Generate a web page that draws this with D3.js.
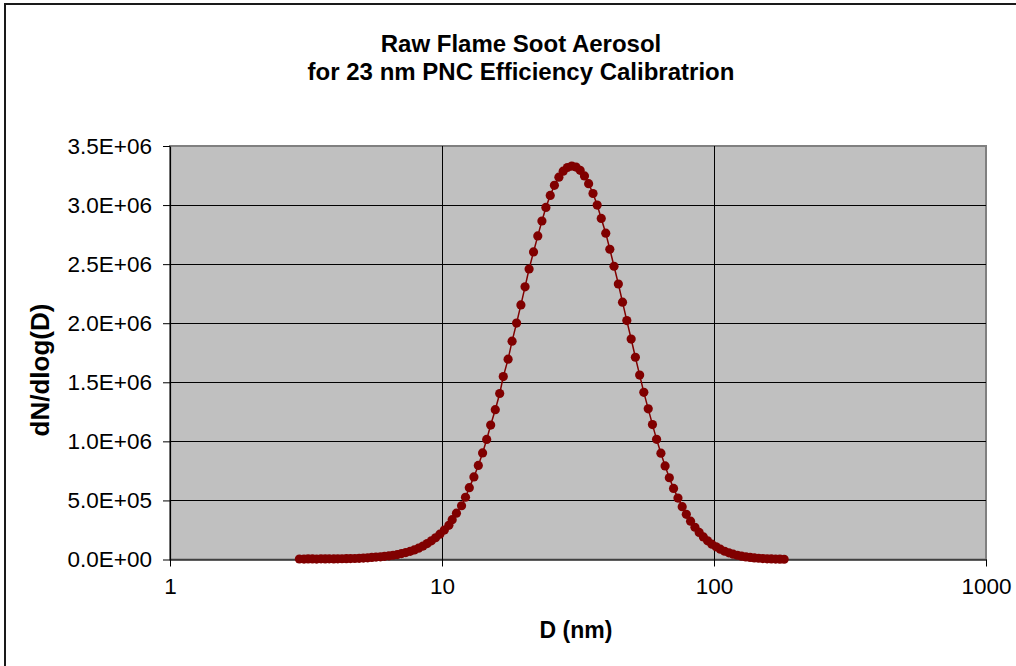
<!DOCTYPE html>
<html>
<head>
<meta charset="utf-8">
<script src="https://cdn.jsdelivr.net/npm/d3@7/dist/d3.min.js"></script>
<style>
  html, body { margin: 0; padding: 0; background: #fff; }
  svg { display: block; font-family: "Liberation Sans", Arial, sans-serif; }
</style>
</head>
<body>
<svg id="chart" width="1016" height="666"></svg>
<script>
// Particle mobility diameters (nm), 64 channels per decade
const diameters = [
  2.99, 3.11, 3.22, 3.34, 3.46, 3.59, 3.72, 3.85, 4.00, 4.14,
  4.29, 4.45, 4.61, 4.78, 4.96, 5.14, 5.33, 5.52, 5.72, 5.94,
  6.15, 6.38, 6.61, 6.85, 7.10, 7.36, 7.64, 7.91, 8.20, 8.51,
  8.82, 9.14, 9.47, 9.82,
  10.2, 10.6, 10.9, 11.3, 11.8, 12.2, 12.6, 13.1, 13.6, 14.1,
  14.6, 15.1, 15.7, 16.3, 16.8, 17.5, 18.1, 18.8, 19.5, 20.2,
  20.9, 21.7, 22.5, 23.3, 24.1, 25.0, 25.9, 26.9, 27.9, 28.9,
  30.0, 31.1, 32.2, 33.4, 34.6, 35.9, 37.2, 38.5, 40.0, 41.4,
  42.9, 44.5, 46.1, 47.8, 49.6, 51.4, 53.3, 55.2, 57.3, 59.4,
  61.5, 63.8, 66.1, 68.5, 71.0, 73.7, 76.4, 79.1, 82.0, 85.1,
  88.2, 91.4, 94.7, 98.2,
  101.8, 105.5, 109.4, 113.4, 117.6, 121.9, 126.3, 131.0, 135.8, 140.7,
  145.9, 151.2, 156.8, 162.5, 168.5, 174.7, 181.1
];

// Number size distribution dN/dlog(D) for each channel
const dNdlogD = [
  4200, 3800, 5100, 4600, 3900, 5400, 4800, 5900, 5200, 6100,
  6500, 7200, 7800, 8600, 9900, 11800, 14500, 17800, 20600, 22900,
  27000, 31000, 36000, 42000, 50000, 59000, 69000, 81000, 96000, 114000,
  135000, 158000, 184000, 214000,
  249000, 289000, 337000, 392000, 455000, 527000, 608000, 699000, 796000, 902000,
  1016000, 1138000, 1268000, 1405000, 1548000, 1696000, 1848000, 2001000, 2155000, 2308000,
  2459000, 2603000, 2739000, 2865000, 2980000, 3082000, 3167000, 3236000, 3287000, 3318000,
  3330000, 3322000, 3294000, 3247000, 3181000, 3098000, 3000000, 2887000, 2762000, 2626000,
  2482000, 2332000, 2178000, 2022000, 1866000, 1712000, 1561000, 1415000, 1275000, 1142000,
  1017000, 900000, 792000, 692000, 602000, 520000, 447000, 382000, 324000, 273000,
  229000, 191000, 158000, 130000,
  107000, 87000, 70000, 56500, 45200, 35900, 28300, 22200, 17300, 13500,
  10400, 8000, 6100, 4700, 3500, 2700, 2000
];

const xTickValues = [1, 10, 100, 1000];
const yTickValues = [0, 500000, 1000000, 1500000, 2000000, 2500000, 3000000, 3500000];

const titleLines = ["Raw Flame Soot Aerosol", "for 23 nm PNC Efficiency Calibratrion"];
const xTitle = "D (nm)";
const yTitle = "dN/dlog(D)";

// ---- layout ----
const plot = { left: 170, right: 986, top: 146, bottom: 559.5 };
const seriesColor = "#800000";
const fontStack = '"Liberation Sans", Arial, sans-serif';

const svg = d3.select("#chart");

// outer chart frame (runs past the canvas on the right and bottom)
svg.append("rect")
  .attr("x", 5).attr("y", 4)
  .attr("width", 1040).attr("height", 700)
  .attr("fill", "#fff")
  .attr("stroke", "#1a1a1a")
  .attr("stroke-width", 2);

const x = d3.scaleLog().domain([1, 1000]).range([plot.left, plot.right]);
const y = d3.scaleLinear().domain([0, 3500000]).range([plot.bottom, plot.top]);

// plot area
svg.append("rect")
  .attr("x", plot.left).attr("y", plot.top)
  .attr("width", plot.right - plot.left)
  .attr("height", plot.bottom - plot.top)
  .attr("fill", "#c0c0c0")
  .attr("stroke", "#808080")
  .attr("stroke-width", 2);

// gridlines
const grid = svg.append("g").attr("shape-rendering", "crispEdges");
grid.selectAll("line.h")
  .data(yTickValues.filter(v => v > 0 && v < 3500000))
  .join("line")
  .attr("x1", plot.left).attr("x2", plot.right)
  .attr("y1", d => Math.round(y(d)) + 0.5).attr("y2", d => Math.round(y(d)) + 0.5)
  .attr("stroke", "#000").attr("stroke-width", 1);
grid.selectAll("line.v")
  .data(xTickValues.filter(v => v > 1 && v < 1000))
  .join("line")
  .attr("x1", d => Math.round(x(d)) + 0.5).attr("x2", d => Math.round(x(d)) + 0.5)
  .attr("y1", plot.top).attr("y2", plot.bottom)
  .attr("stroke", "#000").attr("stroke-width", 1);

// tick label format like 3.5E+06
const sciFmt = v => {
  const [m, e] = v.toExponential(1).split("e");
  const sign = e[0];
  const digits = e.slice(1).padStart(2, "0");
  return `${m}E${sign}${digits}`;
};

// axes
const xAxis = d3.axisBottom(x)
  .tickValues(xTickValues)
  .tickFormat(d3.format("d"))
  .tickSizeInner(7).tickSizeOuter(0).tickPadding(12);
const yAxis = d3.axisLeft(y)
  .tickValues(yTickValues)
  .tickFormat(sciFmt)
  .tickSizeInner(7).tickSizeOuter(0).tickPadding(11);

const gx = svg.append("g")
  .attr("transform", `translate(0,${plot.bottom})`)
  .call(xAxis);
const gy = svg.append("g")
  .attr("transform", `translate(${plot.left},0)`)
  .call(yAxis);

[gx, gy].forEach(g => {
  g.select(".domain").attr("stroke", "#000").attr("stroke-width", 1.2);
  g.selectAll(".tick line").attr("stroke", "#000");
  g.selectAll(".tick text")
    .attr("fill", "#000")
    .style("font-family", fontStack)
    .style("font-size", "22.5px");
});

// series: connecting line + round markers
const pts = d3.zip(diameters, dNdlogD);

svg.append("path")
  .datum(pts)
  .attr("fill", "none")
  .attr("stroke", seriesColor)
  .attr("stroke-width", 1.5)
  .attr("d", d3.line().x(d => x(d[0])).y(d => y(d[1])));

svg.append("g")
  .selectAll("circle")
  .data(pts)
  .join("circle")
  .attr("cx", d => x(d[0]))
  .attr("cy", d => y(d[1]))
  .attr("r", 4.6)
  .attr("fill", seriesColor);

// titles
const titleX = 521;
svg.append("text")
  .attr("x", titleX).attr("y", 52)
  .attr("text-anchor", "middle")
  .style("font-weight", "bold").style("font-size", "24px")
  .text(titleLines[0]);
svg.append("text")
  .attr("x", titleX).attr("y", 80)
  .attr("text-anchor", "middle")
  .style("font-weight", "bold").style("font-size", "24px")
  .text(titleLines[1]);

svg.append("text")
  .attr("x", 576).attr("y", 638)
  .attr("text-anchor", "middle")
  .style("font-weight", "bold").style("font-size", "23px")
  .text(xTitle);

svg.append("text")
  .attr("transform", "translate(49,370) rotate(-90)")
  .attr("text-anchor", "middle")
  .style("font-weight", "bold").style("font-size", "26px")
  .text(yTitle);
</script>
</body>
</html>
